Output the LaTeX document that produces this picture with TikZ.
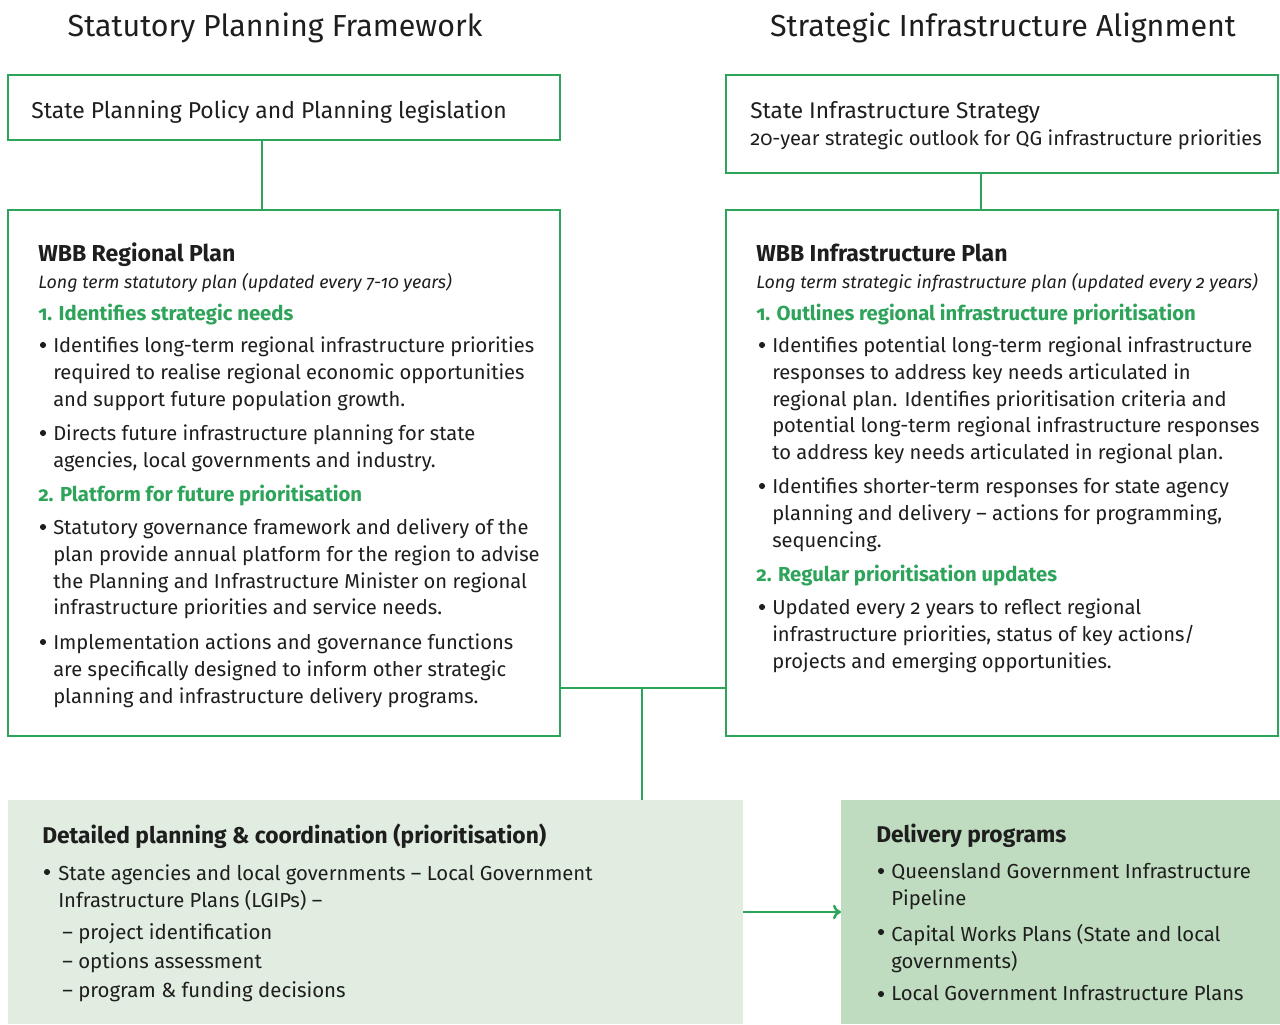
\documentclass[tikz,border=0pt]{standalone}
\usepackage{fontspec}
\setmainfont{Fira Sans}[Numbers=OldStyle]
\usetikzlibrary{arrows.meta}
\definecolor{qgreen}{HTML}{2EA35A}
\definecolor{qtext}{HTML}{1E1E1E}
\definecolor{fillE}{HTML}{E0EDE0}
\definecolor{fillF}{HTML}{C0DCC0}
\begin{document}
\begin{tikzpicture}[x=0.75pt,y=-0.75pt,
  tline/.style={anchor=base west,inner sep=0pt,text=qtext},
  body/.style={font=\fontsize{15.1}{20}\selectfont},
  ital/.style={font=\fontsize{13.4}{18}\selectfont\itshape},
  head/.style={font=\fontsize{17.3}{22}\selectfont\bfseries},
  ghead/.style={font=\fontsize{15.2}{20}\selectfont\bfseries,text=qgreen},
  lowbody/.style={font=\fontsize{15.2}{20.3}\selectfont},
  lowhead/.style={font=\fontsize{17.1}{22}\selectfont\bfseries},
  title/.style={font=\fontsize{22.8}{28}\selectfont,anchor=base,inner sep=0pt,text=qtext},
  frame/.style={draw=qgreen,line width=1.8pt,fill=white},
  conn/.style={draw=qgreen,line width=1.8pt},
  bul/.style={circle,fill=qtext,inner sep=0pt,minimum size=4.6pt}
]
\useasboundingbox[fill=white] (0,0) rectangle (1280,1024);

% titles
\node[title] (t1) at (275,37) {Statutory Planning Framework};
\node[title] (t2) at (1003,37) {Strategic Infrastructure Alignment};

% boxes
\path[frame] (8,75) rectangle (560,140);
\coordinate (Abot) at (262,140);
\path[frame] (726,75) rectangle (1278,173);
\coordinate (Bbot) at (981,173);
\path[frame] (8,210) rectangle (560,736);
\coordinate (Ctop) at (262,210);
\coordinate (Cright) at (560,688);
\path[frame] (726,210) rectangle (1278,736);
\coordinate (Dtop) at (981,210);
\coordinate (Dleft) at (726,688);
\path[fill=fillE] (8,800) rectangle (743,1024);
\coordinate (Etop) at (642,800);
\coordinate (Eright) at (743,912);
\path[fill=fillF] (841,800) rectangle (1280,1024);
\coordinate (Fleft) at (841,912);

% connectors
\draw[conn] (Abot) -- (Ctop);
\draw[conn] (Bbot) -- (Dtop);
\draw[conn] (Cright) -- (Dleft);
\coordinate (J) at (642,688);
\draw[conn] (J) -- (Etop);
\draw[conn,-{To[length=6pt,width=11pt]}] (Eright) -- (Fleft);

% box A / B text
\node[tline,font=\fontsize{17.2}{22}\selectfont] (a1) at (31,118) {State Planning Policy and Planning legislation};
\node[tline,font=\fontsize{17}{22}\selectfont] (b1) at (750,118) {State Infrastructure Strategy};
\node[tline,body] (b2) at (750,145) {20-year strategic outlook for QG infrastructure priorities};

% box C
\node[tline,head] (c1) at (38,261) {WBB Regional Plan};
\node[tline,ital] (c2) at (38,288) {Long term statutory plan (updated every 7-10 years)};
\node[tline,ghead] (c3) at (38,320) {1. Identifies strategic needs};
\node[bul] (cb1) at (43,345) {};
\node[tline,body,align=left,anchor=north west] (c4) at (53,337) {Identifies long-term regional infrastructure priorities\\required to realise regional economic opportunities\\and support future population growth.};
\node[bul] (cb2) at (43,433) {};
\node[tline,body,align=left,anchor=north west] (c5) at (53,425) {Directs future infrastructure planning for state\\agencies, local governments and industry.};
\node[tline,ghead] (c6) at (38,501) {2. Platform for future prioritisation};
\node[bul] (cb3) at (43,527) {};
\node[tline,body,align=left,anchor=north west] (c7) at (53,519) {Statutory governance framework and delivery of the\\plan provide annual platform for the region to advise\\the Planning and Infrastructure Minister on regional\\infrastructure priorities and service needs.};
\node[bul] (cb4) at (43,642) {};
\node[tline,body,align=left,anchor=north west] (c8) at (53,634) {Implementation actions and governance functions\\are specifically designed to inform other strategic\\planning and infrastructure delivery programs.};

% box D
\node[tline,head] (d1) at (756,261) {WBB Infrastructure Plan};
\node[tline,ital] (d2) at (756,288) {Long term strategic infrastructure plan (updated every 2 years)};
\node[tline,ghead] (d3) at (756,320) {1. Outlines regional infrastructure prioritisation};
\node[bul] (db1) at (762,345) {};
\node[tline,body,align=left,anchor=north west] (d4) at (772,337) {Identifies potential long-term regional infrastructure\\responses to address key needs articulated in\\regional plan. Identifies prioritisation criteria and\\potential long-term regional infrastructure responses\\to address key needs articulated in regional plan.};
\node[bul] (db2) at (762,486) {};
\node[tline,body,align=left,anchor=north west] (d5) at (772,478) {Identifies shorter-term responses for state agency\\planning and delivery -- actions for programming,\\sequencing.};
\node[tline,ghead] (d6) at (756,581) {2. Regular prioritisation updates};
\node[bul] (db3) at (762,607) {};
\node[tline,body,align=left,anchor=north west] (d7) at (772,599) {Updated every 2 years to reflect regional\\infrastructure priorities, status of key actions/\\projects and emerging opportunities.};

% box E
\node[tline,lowhead] (e1) at (42,843) {Detailed planning \& coordination (prioritisation)};
\node[bul] (eb1) at (47,872) {};
\node[tline,lowbody,align=left,anchor=north west] (e2) at (58,864) {State agencies and local governments -- Local Government\\Infrastructure Plans (LGIPs) --};
\node[tline,font=\fontsize{15.3}{22}\selectfont,align=left,anchor=north west] (e3) at (62,923) {-- project identification\\-- options assessment\\-- program \& funding decisions};

% box F
\node[tline,lowhead] (f1) at (876,842) {Delivery programs};
\node[bul] (fb1) at (881,871) {};
\node[tline,lowbody,align=left,anchor=north west] (f2) at (891,863) {Queensland Government Infrastructure\\Pipeline};
\node[bul] (fb2) at (881,932) {};
\node[tline,lowbody,align=left,anchor=north west] (f3) at (891,924) {Capital Works Plans (State and local\\governments)};
\node[bul] (fb3) at (881,994) {};
\node[tline,lowbody] (f4) at (891,1000) {Local Government Infrastructure Plans};
\end{tikzpicture}
\end{document}
